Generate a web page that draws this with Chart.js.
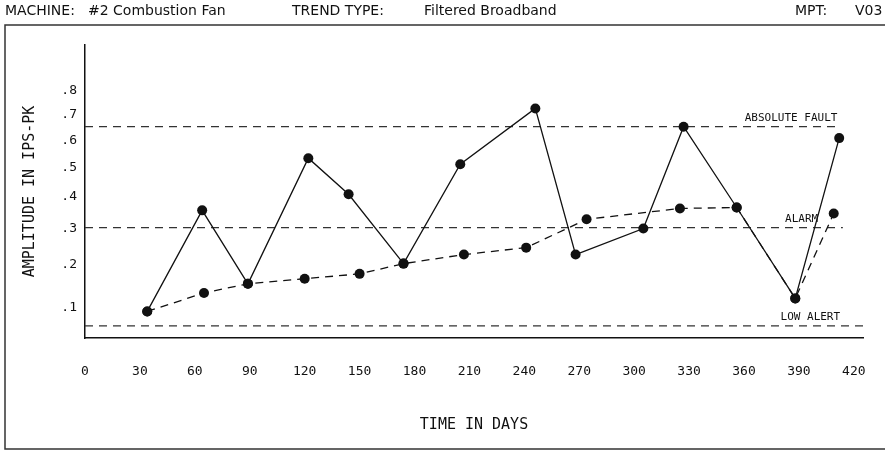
<!DOCTYPE html>
<html lang="en">
<head>
  <meta charset="UTF-8">
  <title>Trend</title>
  <script src="https://cdn.jsdelivr.net/npm/chart.js"></script>
  <style>
    body { margin: 0; background: #fff; }
    #wrap { width: 885px; height: 450px; }
  </style>
</head>
<body>
<div id="wrap"><canvas id="trend"></canvas></div>

<script>
  // valores
  const X_TICKS = [0, 30, 60, 90, 120, 150, 180, 210, 240, 270, 300, 330, 360, 390, 420];
  const Y_TICKS = [0.1, 0.2, 0.3, 0.4, 0.5, 0.6, 0.7, 0.8];

  const DAYS_TREND = [34, 64, 89, 122, 144, 174, 205, 246, 268, 305, 327, 356, 388, 412];
  const AMP_TREND = [0.093, 0.357, 0.153, 0.535, 0.409, 0.203, 0.513, 0.727, 0.227, 0.301, 0.654, 0.366, 0.120, 0.610];

  const DAYS_AVG = [34, 65, 89, 120, 150, 174, 207, 241, 274, 325, 356, 388, 409];
  const AMP_AVG = [0.093, 0.132, 0.153, 0.165, 0.177, 0.203, 0.227, 0.246, 0.329, 0.363, 0.366, 0.120, 0.347];

  const LIMIT_NAMES = ['ABSOLUTE FAULT', 'ALARM', 'LOW ALERT'];
  const LIMIT_VALUES = [0.654, 0.304, 0.066];
  const LIMIT_END_DAYS = [410, 414, 428];
  const LIMIT_LABEL_DAYS = [411, 400.5, 412.5];

  const HEADER = [
    ['MACHINE:', 5], ['#2 Combustion Fan', 88],
    ['TREND TYPE:', 292], ['Filtered Broadband', 424],
    ['MPT:', 795], ['V03', 855]
  ];

  const INK = '#111';
  const EXP = 0.65;

  // eje Y del plotter: no es lineal, se aproxima con una potencia
  class PowerScale extends Chart.LinearScale {
    static id = 'power';
    static defaults = Chart.LinearScale.defaults;
    getPixelForValue(v) {
      if (v === null || v === undefined) return NaN;
      const lo = Math.pow(this.min, EXP), hi = Math.pow(this.max, EXP);
      return this.getPixelForDecimal((Math.pow(v, EXP) - lo) / (hi - lo));
    }
    getValueForPixel(p) {
      const lo = Math.pow(this.min, EXP), hi = Math.pow(this.max, EXP);
      return Math.pow(lo + this.getDecimalForPixel(p) * (hi - lo), 1 / EXP);
    }
  }
  Chart.register(PowerScale);

  const toPoints = (xs, ys) => xs.map((d, i) => ({ x: d, y: ys[i] }));

  const limitSets = LIMIT_NAMES.map((name, i) => ({
    label: name,
    data: [{ x: 0, y: LIMIT_VALUES[i] }, { x: LIMIT_END_DAYS[i], y: LIMIT_VALUES[i] }],
    borderColor: '#333',
    borderWidth: 1.2,
    borderDash: [8, 6],
    pointRadius: 0,
    clip: false
  }));

  const decor = {
    id: 'decor',
    afterDraw(chart) {
      const { ctx, scales: { x, y } } = chart;
      ctx.save();
      ctx.strokeStyle = '#333';
      ctx.lineWidth = 1.5;
      ctx.beginPath();
      ctx.moveTo(885, 25); ctx.lineTo(5, 25); ctx.lineTo(5, 449); ctx.lineTo(885, 449);
      ctx.stroke();

      ctx.fillStyle = INK;
      ctx.font = '14px "DejaVu Sans"';
      ctx.textBaseline = 'middle';
      HEADER.forEach(([t, px]) => ctx.fillText(t, px, 11));

      ctx.font = '11px "DejaVu Sans Mono"';
      ctx.textAlign = 'right';
      ctx.textBaseline = 'bottom';
      LIMIT_NAMES.forEach((name, i) => {
        ctx.fillText(name, x.getPixelForValue(LIMIT_LABEL_DAYS[i]), y.getPixelForValue(LIMIT_VALUES[i]) - 3);
      });
      ctx.restore();
    }
  };

  new Chart(document.getElementById('trend'), {
    type: 'line',
    data: {
      datasets: [
        {
          label: 'Trend',
          data: toPoints(DAYS_TREND, AMP_TREND),
          borderColor: INK,
          borderWidth: 1.3,
          pointRadius: 5,
          pointBorderWidth: 0,
          pointBackgroundColor: INK,
          tension: 0
        },
        {
          label: 'Average',
          data: toPoints(DAYS_AVG, AMP_AVG),
          borderColor: INK,
          borderWidth: 1.3,
          borderDash: [8, 6],
          pointRadius: 5,
          pointBorderWidth: 0,
          pointBackgroundColor: INK,
          tension: 0
        },
        ...limitSets
      ]
    },
    options: {
      responsive: true,
      maintainAspectRatio: false,
      animation: false,
      layout: { padding: { left: 5, top: 45, right: 22, bottom: 0 } },
      plugins: { legend: { display: false }, tooltip: { enabled: false } },
      scales: {
        x: {
          type: 'linear',
          min: 0,
          max: 425,
          afterBuildTicks: s => { s.ticks = X_TICKS.map(v => ({ value: v })); },
          afterFit: s => { s.height = 112; s.paddingLeft = 0; s.paddingRight = 0; },
          grid: { display: false, drawTicks: false },
          border: { display: true, color: INK, width: 1.5 },
          ticks: {
            color: INK,
            padding: 26,
            maxRotation: 0,
            autoSkip: false,
            font: { family: 'DejaVu Sans Mono', size: 13 },
            callback: v => String(v)
          },
          title: {
            display: true,
            text: 'TIME IN DAYS',
            color: INK,
            font: { family: 'DejaVu Sans Mono', size: 15 },
            padding: { top: 0, bottom: 16 }
          }
        },
        y: {
          type: 'power',
          min: 0.046,
          max: 1.0,
          afterBuildTicks: s => { s.ticks = Y_TICKS.map(v => ({ value: v })); },
          afterFit: s => { s.width = 80; s.paddingTop = 0; s.paddingBottom = 0; },
          grid: { display: false, drawTicks: false },
          border: { display: true, color: INK, width: 1.5 },
          ticks: {
            color: INK,
            padding: 8,
            autoSkip: false,
            font: { family: 'DejaVu Sans Mono', size: 13 },
            callback: v => '.' + Math.round(v * 10)
          },
          title: {
            display: true,
            text: 'AMPLITUDE IN IPS-PK',
            color: INK,
            font: { family: 'DejaVu Sans Mono', size: 15 },
            padding: { top: 16, bottom: 0 }
          }
        }
      }
    },
    plugins: [decor]
  });
</script>
</body>
</html>
